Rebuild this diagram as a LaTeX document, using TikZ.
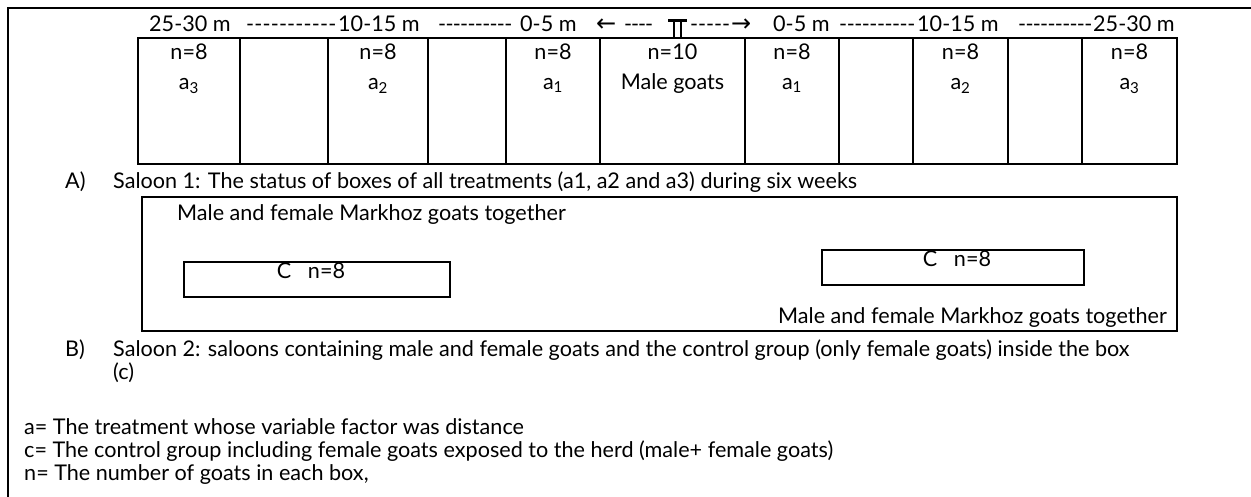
\documentclass[tikz,border=0pt]{standalone}
\usepackage{fontspec}
\setmainfont{Lato}
\newfontfamily\symfont{DejaVu Sans}
% a run of #1 hyphens spread evenly over a width of #2
\newcommand\dashrun[2]{\hbox to #2pt{-\foreach\k in {2,...,#1}{\hskip 0pt plus 1fil minus 2pt-}}}

\begin{document}
\begin{tikzpicture}[x=1pt,y=-1pt,
  rule/.style={line width=1.8pt},
  cell/.style={draw, line width=1.6pt, inner sep=0pt, minimum height=126pt},
  txt/.style={font=\fontsize{21.6}{26}\selectfont, inner sep=0pt},
  ctext/.style={txt, anchor=base},
  wtext/.style={txt, anchor=base west},
  arrowglyph/.style={anchor=base west, inner sep=0pt, font=\symfont\fontsize{24}{26}\selectfont}]
\useasboundingbox (0,0) rectangle (1251,496);

% outer frame (top and left edges)
\coordinate (fTL) at (8,8);
\coordinate (fTR) at (1251,8);
\coordinate (fBL) at (8,496);
\draw[rule, line cap=rect] (fTR) -- (fTL) -- (fBL);

% distance scale above the boxes
\node[wtext] (s1)  at (149,31) {25-30 m};
\node[wtext] (d1)  at (246,31) {\dashrun{11}{90}};
\node[wtext] (s2)  at (338,31) {10-15 m};
\node[wtext] (d2)  at (438,31) {\dashrun{10}{74}};
\node[wtext] (s3)  at (520,31) {0-5 m};
\node[arrowglyph] (al) at (596,31) {←};
\node[wtext] (d3)  at (624,31) {\dashrun{4}{29}};
\node[wtext] (d4)  at (690,31) {\dashrun{5}{40}};
\node[arrowglyph] (ar) at (731,31) {→};
\node[wtext] (s4)  at (773,31) {0-5 m};
\node[wtext] (d5)  at (839,31) {\dashrun{10}{76}};
\node[wtext] (s5)  at (917,31) {10-15 m};
\node[wtext] (d6)  at (1018,31) {\dashrun{10}{74}};
\node[wtext] (s6)  at (1093,31) {25-30 m};

% saloon 1: row of boxes
\foreach \nm/\l/\r in {c1/138/240, c2/240/328, c3/328/428, c4/428/506, c5/506/600,
    c6/600/745, c7/745/839, c8/839/913, c9/913/1008, c10/1008/1082, c11/1082/1177}
  \node[cell, minimum width={\r-\l}] (\nm) at ({(\l+\r)/2},101) {};

% marker of the male box, standing on its top edge
\coordinate (mid) at (677.5,20.5);
\draw[line width=2.2pt] ([xshift=-9.5pt]mid) -- ([xshift=9.5pt]mid);
\draw[line width=1.5pt] ([xshift=-3.5pt]mid) -- ([xshift=-3.5pt]mid |- c6.north)
                        ([xshift=3.5pt]mid) -- ([xshift=3.5pt]mid |- c6.north);

\foreach \nm/\lab in {c1/3, c3/2, c5/1, c7/1, c9/2, c11/3} {
  \node[ctext] (n-\nm) at ([yshift=-22pt]\nm.north) {n=8};
  \node[ctext] (a-\nm) at ([yshift=-52pt]\nm.north) {a\textsubscript{\lab}};
}
\node[ctext] (n-c6) at ([yshift=-22pt]c6.north) {n=10};
\node[ctext] (m-c6) at ([yshift=-52pt]c6.north) {Male goats};

\node[wtext] (Alab) at (65,188) {A)};
\node[wtext] (Acap) at (113,188)
  {Saloon 1: The status of boxes of all treatments (a1, a2 and a3) during six weeks};

% saloon 2
\node[draw, line width=1.6pt, inner sep=0pt, minimum width=1035pt, minimum height=134pt] (sal) at (659.5,264) {};
\node[wtext] (herd1) at (177,220) {Male and female Markhoz goats together};
\node[txt, anchor=base east] (herd2) at (1167,323) {Male and female Markhoz goats together};
\node[draw, line width=1.6pt, inner sep=0pt, minimum width=262pt, minimum height=35pt] (cR) at (953,267.5) {};
\node[draw, line width=1.6pt, inner sep=0pt, minimum width=266pt, minimum height=35pt] (cL) at (317,279.5) {};
\node[ctext] (cRt) at ([xshift=4pt,yshift=-17pt]cR.north) {C\ \ \ n=8};
\node[ctext] (cLt) at ([xshift=-6pt,yshift=-17pt]cL.north) {C\ \ \ n=8};

\node[wtext] (Blab) at (65,356) {B)};
\node[wtext] (Bcap) at (113,356)
  {Saloon 2: saloons containing male and female goats and the control group (only female goats) inside the box};
\node[wtext] (Bcap2) at (113,379) {(c)};

% legend
\node[wtext] (la) at (24,434) {a= The treatment whose variable factor was distance};
\node[wtext] (lc) at (24,457) {c= The control group including female goats exposed to the herd (male+ female goats)};
\node[wtext] (ln) at (24,480) {n= The number of goats in each box,};
\end{tikzpicture}
\end{document}
